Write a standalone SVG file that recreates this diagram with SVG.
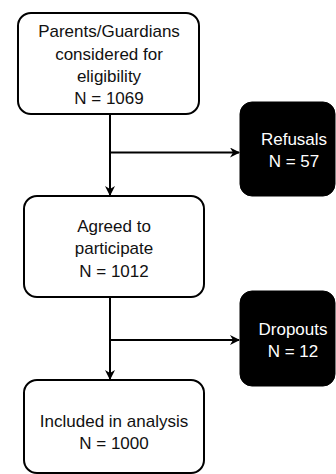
<svg xmlns="http://www.w3.org/2000/svg" width="336" height="474" viewBox="0 0 336 474">
<style>
.box{fill:#fff;stroke:#000;stroke-width:2}
.dark{fill:#000;stroke:#000;stroke-width:1}
.t{font-family:"Liberation Sans",Arial,sans-serif;font-size:17px;text-anchor:middle;fill:#111}
.tw{font-family:"Liberation Sans",Arial,sans-serif;font-size:17px;text-anchor:middle;fill:#fff}
.c{fill:none;stroke:#000;stroke-width:2}
</style>
<defs>
<marker id="arr" viewBox="0 0 10 10" refX="9" refY="5" markerWidth="5" markerHeight="5" markerUnits="strokeWidth" orient="auto">
<path d="M0,0 L10,5 L0,10 L3,5 Z" fill="#000"/>
</marker>
</defs>
<rect width="336" height="474" fill="#fff"/>
<g id="connectors">
<line class="c" x1="110" y1="114" x2="110" y2="195" marker-end="url(#arr)"/>
<line class="c" x1="110" y1="152.5" x2="239" y2="152.5" marker-end="url(#arr)"/>
<line class="c" x1="110" y1="297" x2="110" y2="379" marker-end="url(#arr)"/>
<line class="c" x1="110" y1="340" x2="239" y2="340" marker-end="url(#arr)"/>
</g>
<g id="eligibility">
<rect class="box" x="18" y="13" width="181" height="101" rx="13"/>
<text class="t" x="109" y="37">Parents/Guardians</text>
<text class="t" x="109" y="60">considered for</text>
<text class="t" x="109" y="82">eligibility</text>
<text class="t" x="109" y="104">N = 1069</text>
</g>
<g id="refusals">
<rect class="dark" x="240" y="102" width="95" height="94" rx="12"/>
<text class="tw" x="294" y="145">Refusals</text>
<text class="tw" x="294" y="167">N = 57</text>
</g>
<g id="agreed">
<rect class="box" x="24" y="196" width="180" height="101" rx="13"/>
<text class="t" x="114" y="232">Agreed to</text>
<text class="t" x="114" y="254">participate</text>
<text class="t" x="114" y="277">N = 1012</text>
</g>
<g id="dropouts">
<rect class="dark" x="240" y="291" width="95" height="95" rx="12"/>
<text class="tw" x="293" y="335">Dropouts</text>
<text class="tw" x="293" y="357">N = 12</text>
</g>
<g id="included">
<rect class="box" x="24" y="380" width="180" height="93" rx="13"/>
<text class="t" x="114" y="427">Included in analysis</text>
<text class="t" x="114" y="449">N = 1000</text>
</g>
</svg>
